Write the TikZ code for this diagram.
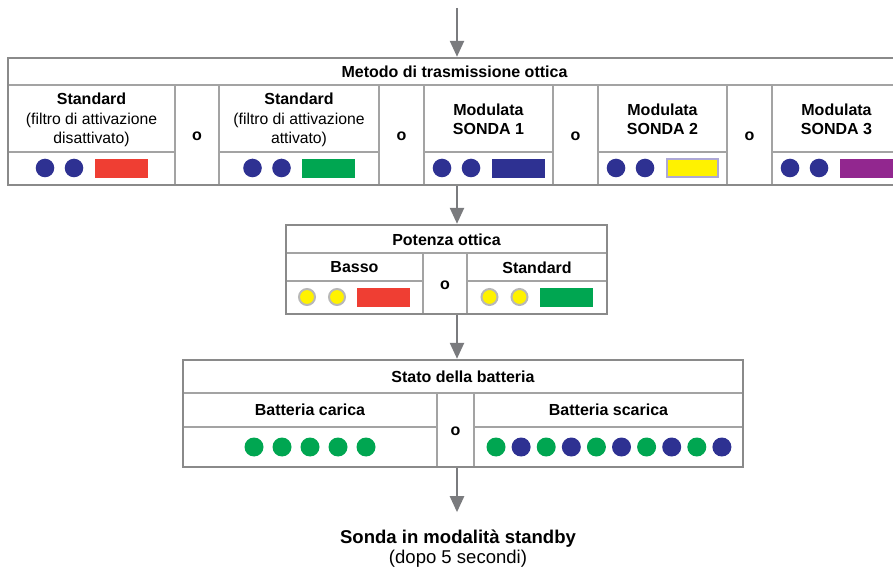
\documentclass[tikz,border=0pt]{standalone}
\usepackage{fontspec}
\setmainfont{Liberation Sans}
\usepackage{tikz}
\usetikzlibrary{fit}
\usetikzlibrary{arrows.meta}
\usepackage{xcolor}

\definecolor{lineg}{HTML}{A3A3A3}
\definecolor{frameg}{HTML}{8A8A8A}
\definecolor{arrowg}{HTML}{7A7B7E}
\definecolor{ledblue}{HTML}{2E3192}
\definecolor{ledred}{HTML}{EF3E33}
\definecolor{ledgreen}{HTML}{00A651}
\definecolor{ledyellow}{HTML}{FFF200}
\definecolor{ledpurple}{HTML}{92278F}
\definecolor{lavender}{HTML}{ADA8D6}
\definecolor{ringg}{HTML}{B8B8B8}

\tikzset{
  tabframe/.style={draw=frameg, line width=1.8pt, inner sep=0pt, fit={#1}},
  cell/.style={draw=lineg, line width=0.8pt},
  txt/.style={font=\fontsize{11.8}{14.4}\selectfont, align=center, inner sep=0pt},
  hd/.style={txt, font=\fontsize{12}{14.4}\selectfont\bfseries},
  orword/.style={hd},
  flow/.style={draw=arrowg, line width=1.8pt, -{Triangle[length=12pt, width=10.5pt]}},
}

\begin{document}
\begin{tikzpicture}[x=0.75pt, y=-0.75pt]

\useasboundingbox (0,0) rectangle (893,570);
\clip (0,0) rectangle (893,570);

\coordinate (start) at (457,8);

% metodo di trasmissione
\begin{scope}{
\draw[cell] (8,85) -- (901,85);
\draw[cell] (8,152) -- (175,152);
\draw[cell] (219,152) -- (379,152);
\draw[cell] (424,152) -- (553,152);
\draw[cell] (598,152) -- (727,152);
\draw[cell] (772,152) -- (901,152);
\draw[cell] (175,85) -- (175,185);
\draw[cell] (219,85) -- (219,185);
\draw[cell] (379,85) -- (379,185);
\draw[cell] (424,85) -- (424,185);
\draw[cell] (553,85) -- (553,185);
\draw[cell] (598,85) -- (598,185);
\draw[cell] (727,85) -- (727,185);
\draw[cell] (772,85) -- (772,185);

\node[tabframe={(8,58) (901,185)}] (metodo) {};

\node[hd] (tMetodo) at (454.5,72) {Metodo di trasmissione ottica};

\node[txt] (hStdOff) at (91.5,120) {{\fontsize{12}{14.4}\selectfont\bfseries Standard}\\(filtro di attivazione\\disattivato)};
\node[txt] (hStdOn) at (299,120) {{\fontsize{12}{14.4}\selectfont\bfseries Standard}\\(filtro di attivazione\\attivato)};
\node[hd] (hSonda1) at (488.5,119) {Modulata\\SONDA 1};
\node[hd] (hSonda2) at (662.5,119) {Modulata\\SONDA 2};
\node[hd] (hSonda3) at (836.5,119) {Modulata\\SONDA 3};

\node[orword] (oA) at (197,136) {o};
\node[orword] (oB) at (401.5,136) {o};
\node[orword] (oC) at (575.5,136) {o};
\node[orword] (oD) at (749.5,136) {o};

\foreach \c/\col in {91.5/ledred, 299/ledgreen, 488.5/ledblue, 836.5/ledpurple}{
  \fill[ledblue] (\c-46.5,168) circle[radius=9.3];
  \fill[ledblue] (\c-17.5,168) circle[radius=9.3];
  \fill[\col] (\c+3,159) rectangle (\c+56,178);
}
\fill[ledblue] (616,168) circle[radius=9.3];
\fill[ledblue] (645,168) circle[radius=9.3];
\draw[lavender, line width=1.5pt, fill=ledyellow] (666.5,159.5) rectangle (717.5,177.5);
} \end{scope}

% potenza ottica
\begin{scope}{
\draw[cell] (286,253) -- (607,253);
\draw[cell] (286,281) -- (423,281);
\draw[cell] (467,281) -- (607,281);
\draw[cell] (423,253) -- (423,314);
\draw[cell] (467,253) -- (467,314);

\node[tabframe={(286,225) (607,314)}] (potenza) {};

\node[hd] (tPotenza) at (446.5,239.5) {Potenza ottica};
\node[hd] (hBasso) at (354.5,267.5) {Basso};
\node[hd] (hStandard) at (537,267.5) {Standard};
\node[orword] (oE) at (445,285) {o};

\foreach \c/\col in {354.5/ledred, 537/ledgreen}{
  \draw[ringg, line width=1.5pt, fill=ledyellow] (\c-47.5,297) circle[radius=8];
  \draw[ringg, line width=1.5pt, fill=ledyellow] (\c-17.5,297) circle[radius=8];
  \fill[\col] (\c+2.5,288) rectangle (\c+55.5,307);
}
} \end{scope}

% stato della batteria
\begin{scope}{
\draw[cell] (183,393) -- (743,393);
\draw[cell] (183,427) -- (437,427);
\draw[cell] (474,427) -- (743,427);
\draw[cell] (437,393) -- (437,467);
\draw[cell] (474,393) -- (474,467);

\node[tabframe={(183,360) (743,467)}] (batteria) {};

\node[hd] (tBatteria) at (463,376.5) {Stato della batteria};
\node[hd] (hCarica) at (310,410) {Batteria carica};
\node[hd] (hScarica) at (608.5,410) {Batteria scarica};
\node[orword] (oF) at (455.5,431) {o};

\foreach \i in {0,...,4}
  \fill[ledgreen] (254+28*\i,447) circle[radius=9.5];
\foreach \i in {0,2,4,6,8}{
  \fill[ledgreen] (496+25.1*\i,447) circle[radius=9.5];
  \fill[ledblue] (521.1+25.1*\i,447) circle[radius=9.5];
}
} \end{scope}

\node[txt, font=\fontsize{13.9}{15}\selectfont] (standby) at (458,548.5)
  {\textbf{Sonda in modalità standby}\\(dopo 5 secondi)};

\draw[flow] (start) -- (start |- metodo.north);
\draw[flow] (start |- metodo.south) -- (start |- potenza.north);
\draw[flow] (start |- potenza.south) -- (start |- batteria.north);
\draw[flow, shorten >=13pt] (start |- batteria.south) -- (start |- standby.north);

\end{tikzpicture}
\end{document}
